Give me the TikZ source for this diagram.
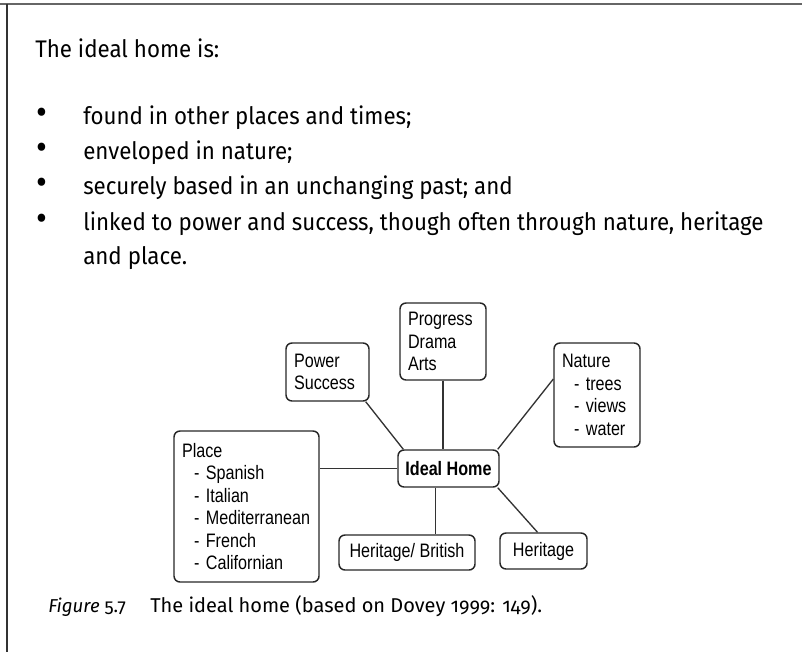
\documentclass[tikz,border=0pt]{standalone}
\usepackage{fontspec}
\setmainfont{Fira Sans}[Numbers=OldStyle]
\newfontfamily\bodyfont{Fira Sans}[FakeStretch=0.93]
\newfontfamily\diagfont{Liberation Sans}[FakeStretch=0.83]
\usepackage{tikz}
\tikzset{box/.style = {rectangle, rounded corners=4.5pt, draw=black!85, line width=1.1pt,
                       font=\diagfont\fontsize{14.6}{16.9}\selectfont,
                       inner xsep=6pt, inner ysep=0pt},
         link/.style = {draw=black!80, line width=1pt},
         txt/.style = {inner sep=0pt, font=\bodyfont\fontsize{18}{26}\selectfont},
         captxt/.style = {inner sep=0pt, font=\fontsize{15}{20}\selectfont}}

\begin{document}
\begin{tikzpicture}[x=0.75pt, y=-0.75pt]
    \useasboundingbox (0,0) rectangle (802,652);
    \draw [black!60, line width=1.6pt] (0,4) -- (802,4);
    \draw [black!80, line width=1.3pt] (7,4) -- (7,652);

    \node [txt, anchor=base west] (title) at (35,58) {The ideal home is:};

    \node [txt, anchor=base] (d1) at (42,125) {\scalebox{1.5}{\textbullet}};
    \node [txt, anchor=base] (d2) at (42,160) {\scalebox{1.5}{\textbullet}};
    \node [txt, anchor=base] (d3) at (42,195) {\scalebox{1.5}{\textbullet}};
    \node [txt, anchor=base] (d4) at (42,230) {\scalebox{1.5}{\textbullet}};
    \node [txt, anchor=base west] (t1) at (83,125) {found in other places and times;};
    \node [txt, anchor=base west] (t2) at (83,160) {enveloped in nature;};
    \node [txt, anchor=base west] (t3) at (83,195) {securely based in an unchanging past; and};
    \node [txt, anchor=base west] (t4) at (83,230) {linked to power and success, though often through nature, heritage};
    \node [txt, anchor=base west] (t5) at (83,264) {and place.};

    \node [box, align=left, text width=52.5pt, minimum height=57.75pt] (progress) at (443,341.5)
        {Progress\\Drama\\Arts};
    \node [box, align=left, text width=50.25pt, minimum height=43.5pt] (power) at (327.5,372)
        {Power\\Success};
    \node [box, align=left, text width=52.5pt, minimum height=78pt] (nature) at (597,395)
        {Nature\\\hspace*{9pt}- trees\\\hspace*{9pt}- views\\\hspace*{9pt}- water};
    \node [box, align=left, text width=96.75pt, minimum height=113.25pt] (place) at (246.5,506.5)
        {Place\\\hspace*{9pt}- Spanish\\\hspace*{9pt}- Italian\\\hspace*{9pt}- Mediterranean\\\hspace*{9pt}- French\\\hspace*{9pt}- Californian};
    \node [box, minimum width=75.75pt, minimum height=27.75pt, inner xsep=0pt] (ideal) at (448.5,468.5)
        {\bfseries Ideal Home};
    \node [box, minimum width=102pt, minimum height=26.25pt, inner xsep=0pt] (herbrit) at (407,552.5)
        {Heritage/ British};
    \node [box, minimum width=65.25pt, minimum height=27pt, inner xsep=0pt] (heritage) at (543.5,551)
        {Heritage};

    \draw [link] (ideal.west) -- (ideal.west -| place.east);
    \draw [link] ([xshift=-3pt]power.south east) -- ([xshift=4.5pt]ideal.north west);
    \draw [link] (progress.south) -- (progress.south |- ideal.north);
    \draw [link] (nature.160) -- ([xshift=-1.5pt]ideal.north east);
    \draw [link] ([xshift=-10pt]ideal.south) -- ([xshift=-10pt]ideal.south |- herbrit.north);
    \draw [link] ([xshift=-1.5pt]ideal.south east) -- ([xshift=-4.5pt]heritage.north);

    \node [captxt, anchor=base west, font=\fontsize{14}{20}\selectfont] (fignum) at (48,612) {\textit{Figure} 5.7};
    \node [captxt, anchor=base west] (figtext) at (150,612) {The ideal home (based on Dovey 1999: 149).};
\end{tikzpicture}
\end{document}
